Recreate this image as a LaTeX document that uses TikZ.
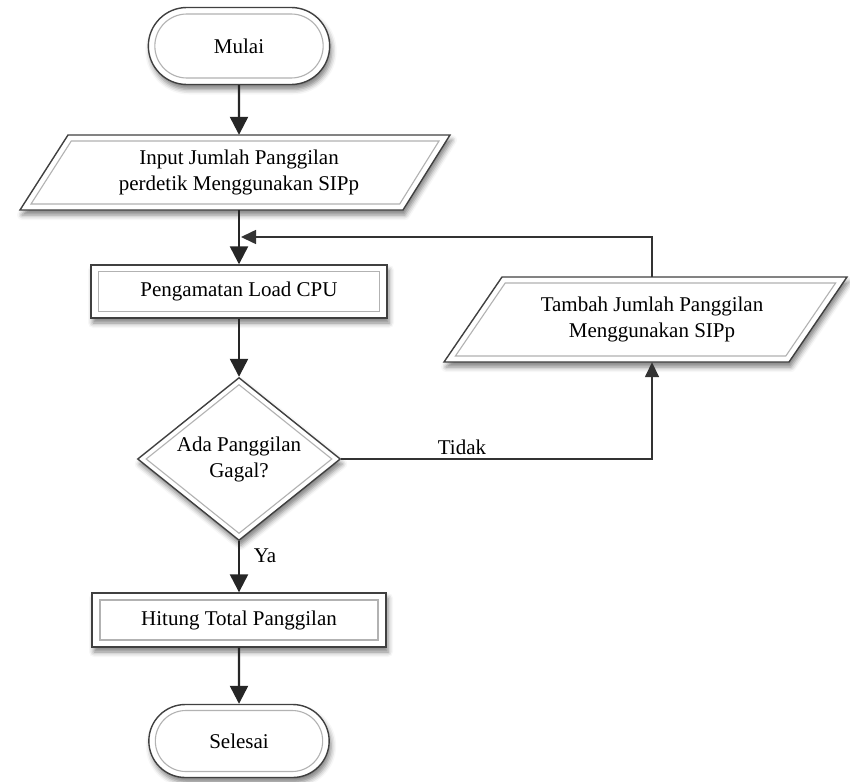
\documentclass[tikz,border=0pt]{standalone}
\usepackage{fontspec}
\setmainfont{Liberation Serif}
\usetikzlibrary{shapes.misc,shapes.geometric,arrows.meta,shadows.blur}
\begin{document}
\begin{tikzpicture}[x=1pt,y=-1pt,
  font=\fontsize{21}{26}\selectfont,
  outerline/.style={draw=black!75, line width=1.4pt, fill=white,
    blur shadow={shadow xshift=2pt, shadow yshift=-5pt, shadow blur radius=5pt, shadow opacity=50}},
  innerline/.style={draw=black!30, line width=1.1pt},
  lbl/.style={align=center, inner sep=0pt},
  flow/.style={line width=2.4pt, draw=black!85, -{Triangle[length=18pt,width=18pt]}},
  loopflow/.style={line width=1.6pt, draw=black!80, -{Triangle[length=15pt,width=14pt]}}
]
\useasboundingbox (0,0) rectangle (850,781);

% Mulai
\node[rounded rectangle, outerline, minimum width=188pt, minimum height=77pt] (mulai) at (239,46) {Mulai};
\node[rounded rectangle, innerline, minimum width=175pt, minimum height=64pt] at (239,46) {};

% Input
\path[outerline] (68,135) -- (450,135) -- (403,210) -- (20,210) -- cycle;
\path[innerline] (71.3,141) -- (439,141) -- (399.7,204) -- (31,204) -- cycle;
\node[lbl, minimum height=75pt] (input) at (239,172.5) {Input Jumlah Panggilan\\perdetik Menggunakan SIPp};

% Pengamatan
\node[rectangle, outerline, minimum width=296pt, minimum height=53pt] (amati) at (239,291.5) {Pengamatan Load CPU};
\node[rectangle, innerline, minimum width=281pt, minimum height=40pt] at (239,291.5) {};

% Decision
\node[diamond, aspect=1.25, outerline, minimum width=203pt, minimum height=163pt, inner sep=0pt, align=center] (cek) at (239,459) {Ada Panggilan\\Gagal?};
\node[diamond, aspect=1.25, innerline, minimum width=186pt, minimum height=149pt, inner sep=0pt] at (239,459) {};

% Tambah
\path[outerline] (502,277) -- (847,277) -- (789,362) -- (444,362) -- cycle;
\path[innerline] (505.2,283) -- (835.6,283) -- (785.8,356) -- (455.4,356) -- cycle;
\node[lbl, minimum height=85pt] (tambah) at (652,319.5) {Tambah Jumlah Panggilan\\Menggunakan SIPp};

% Hitung
\node[rectangle, outerline, minimum width=294pt, minimum height=54pt] (hitung) at (239,620) {Hitung Total Panggilan};
\node[rectangle, innerline, minimum width=278pt, minimum height=40pt] at (239,620) {};

% Selesai
\node[rounded rectangle, outerline, minimum width=187pt, minimum height=73pt] (selesai) at (239,741) {Selesai};
\node[rounded rectangle, innerline, minimum width=174pt, minimum height=61pt] at (239,741) {};

% Connectors
\coordinate (join) at (241,237);
\draw[flow] (mulai) -- (input);
\draw[flow] (input) -- (amati);
\draw[flow] (amati) -- (cek);
\draw[flow] (cek) -- (hitung);
\draw[flow] (hitung) -- (selesai);
\draw[loopflow] (cek.east) -| (tambah.south);
\draw[loopflow] (tambah.north) |- (join);

% Labels
\node[lbl] (ya) at (265,556) {Ya};
\node[lbl] (tidak) at (462,447) {Tidak};
\end{tikzpicture}
\end{document}
